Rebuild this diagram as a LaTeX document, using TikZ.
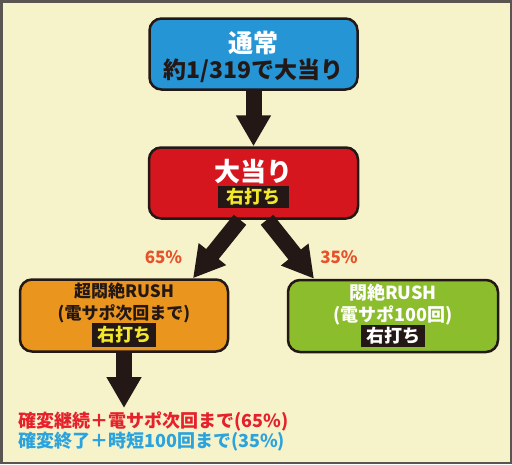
\documentclass[tikz,border=0pt]{standalone}
\usepackage{fontspec}
\setmainfont{Noto Sans CJK JP}
\usetikzlibrary{arrows.meta}
\definecolor{bg}{HTML}{F6F3CB}
\definecolor{frame}{HTML}{5A5550}
\definecolor{ink}{HTML}{231815}
\definecolor{cblue}{HTML}{2595D5}
\definecolor{cred}{HTML}{D6161E}
\definecolor{corange}{HTML}{EA961E}
\definecolor{cgreen}{HTML}{8BBD2C}
\definecolor{cyellow}{HTML}{F2E72A}
\definecolor{cpct}{HTML}{E6532A}
\definecolor{tred}{HTML}{E6212B}
\definecolor{tblue}{HTML}{2CA3DC}
\tikzset{
  box/.style={draw=ink, line width=2.5pt, rounded corners=12pt, minimum width=#1, minimum height=71pt, inner sep=0pt},
  lbl/.style={fill=ink, inner xsep=5pt, inner ysep=2pt, minimum height=22pt, font=\fontsize{18}{18}\selectfont\bfseries},
  txt/.style={inner sep=0pt, font=\fontsize{#1}{#1}\selectfont\bfseries},
  bigarrow/.style={draw=ink, line width=16pt, -{Triangle[width=33pt,length=31pt]}, shorten >=0pt},
  pct/.style={text=cpct, inner sep=0pt, font=\fontsize{17}{17}\selectfont\bfseries}
}
\begin{document}
\begin{tikzpicture}[x=1pt,y=-1pt]
\useasboundingbox (0,0) rectangle (512,464);
\fill[bg] (0,0) rectangle (512,464);
\draw[frame, line width=2.5pt] (1.25,1.25) rectangle (510.75,462.75);

% boxes
\node[box=208pt, fill=cblue] (top) at (253.5,54) {};
\node[box=209pt, fill=cred] (hit) at (253.5,183) {};
\node[box=208pt, fill=corange, minimum height=72pt] (rush1) at (124,315.5) {};
\node[box=210pt, fill=cgreen, minimum height=72pt] (rush2) at (393,316) {};

% top box text
\node[txt=25, text=white] (t1) at ([yshift=11pt]top.center) {通常};
\node[txt=23, text=ink] (t2) at ([yshift=-17pt]top.center) {約1/319で大当り};

% hit box text
\node[txt=26, text=white] (h1) at ([yshift=11pt]hit.center) {大当り};
\node[lbl, text=cyellow, minimum width=71pt] (h2) at ([yshift=-14pt]hit.center) {右打ち};

% rush1 text
\node[txt=17, text=ink] (r1a) at ([yshift=24.5pt]rush1.center) {超悶絶RUSH};
\node[txt=17, text=ink] (r1b) at ([yshift=1.5pt]rush1.center) {(電サポ次回まで)};
\node[lbl, text=cyellow, minimum width=63pt, minimum height=24pt] (r1c) at ([yshift=-19.5pt]rush1.center) {右打ち};

% rush2 text
\node[txt=18, text=white] (r2a) at ([yshift=23pt]rush2.center) {悶絶RUSH};
\node[txt=18, text=white] (r2b) at ([yshift=1pt]rush2.center) {(電サポ100回)};
\node[lbl, text=white, minimum width=60pt] (r2c) at ([yshift=-20pt]rush2.center) {右打ち};

% percentages
\node[pct] (p65) at (163.5,257) {65\%};
\node[pct] (p35) at (339,257) {35\%};

% arrows
\draw[bigarrow] (top.south) -- (hit.north);
\draw[bigarrow] ([xshift=-13.5pt]hit.south) -- ([xshift=69pt]rush1.north);
\draw[bigarrow] ([xshift=13.5pt]hit.south) -- ([xshift=-79pt]rush2.north);
\coordinate (endp) at (124,408);
\draw[bigarrow] (rush1.south) -- (endp);

% bottom text
\node[txt=18, text=tred, anchor=west] (b1) at (18,421) {確変継続＋電サポ次回まで(65\%)};
\node[txt=18, text=tblue, anchor=west] (b2) at (18,442) {確変終了＋時短100回まで(35\%)};
\end{tikzpicture}
\end{document}
